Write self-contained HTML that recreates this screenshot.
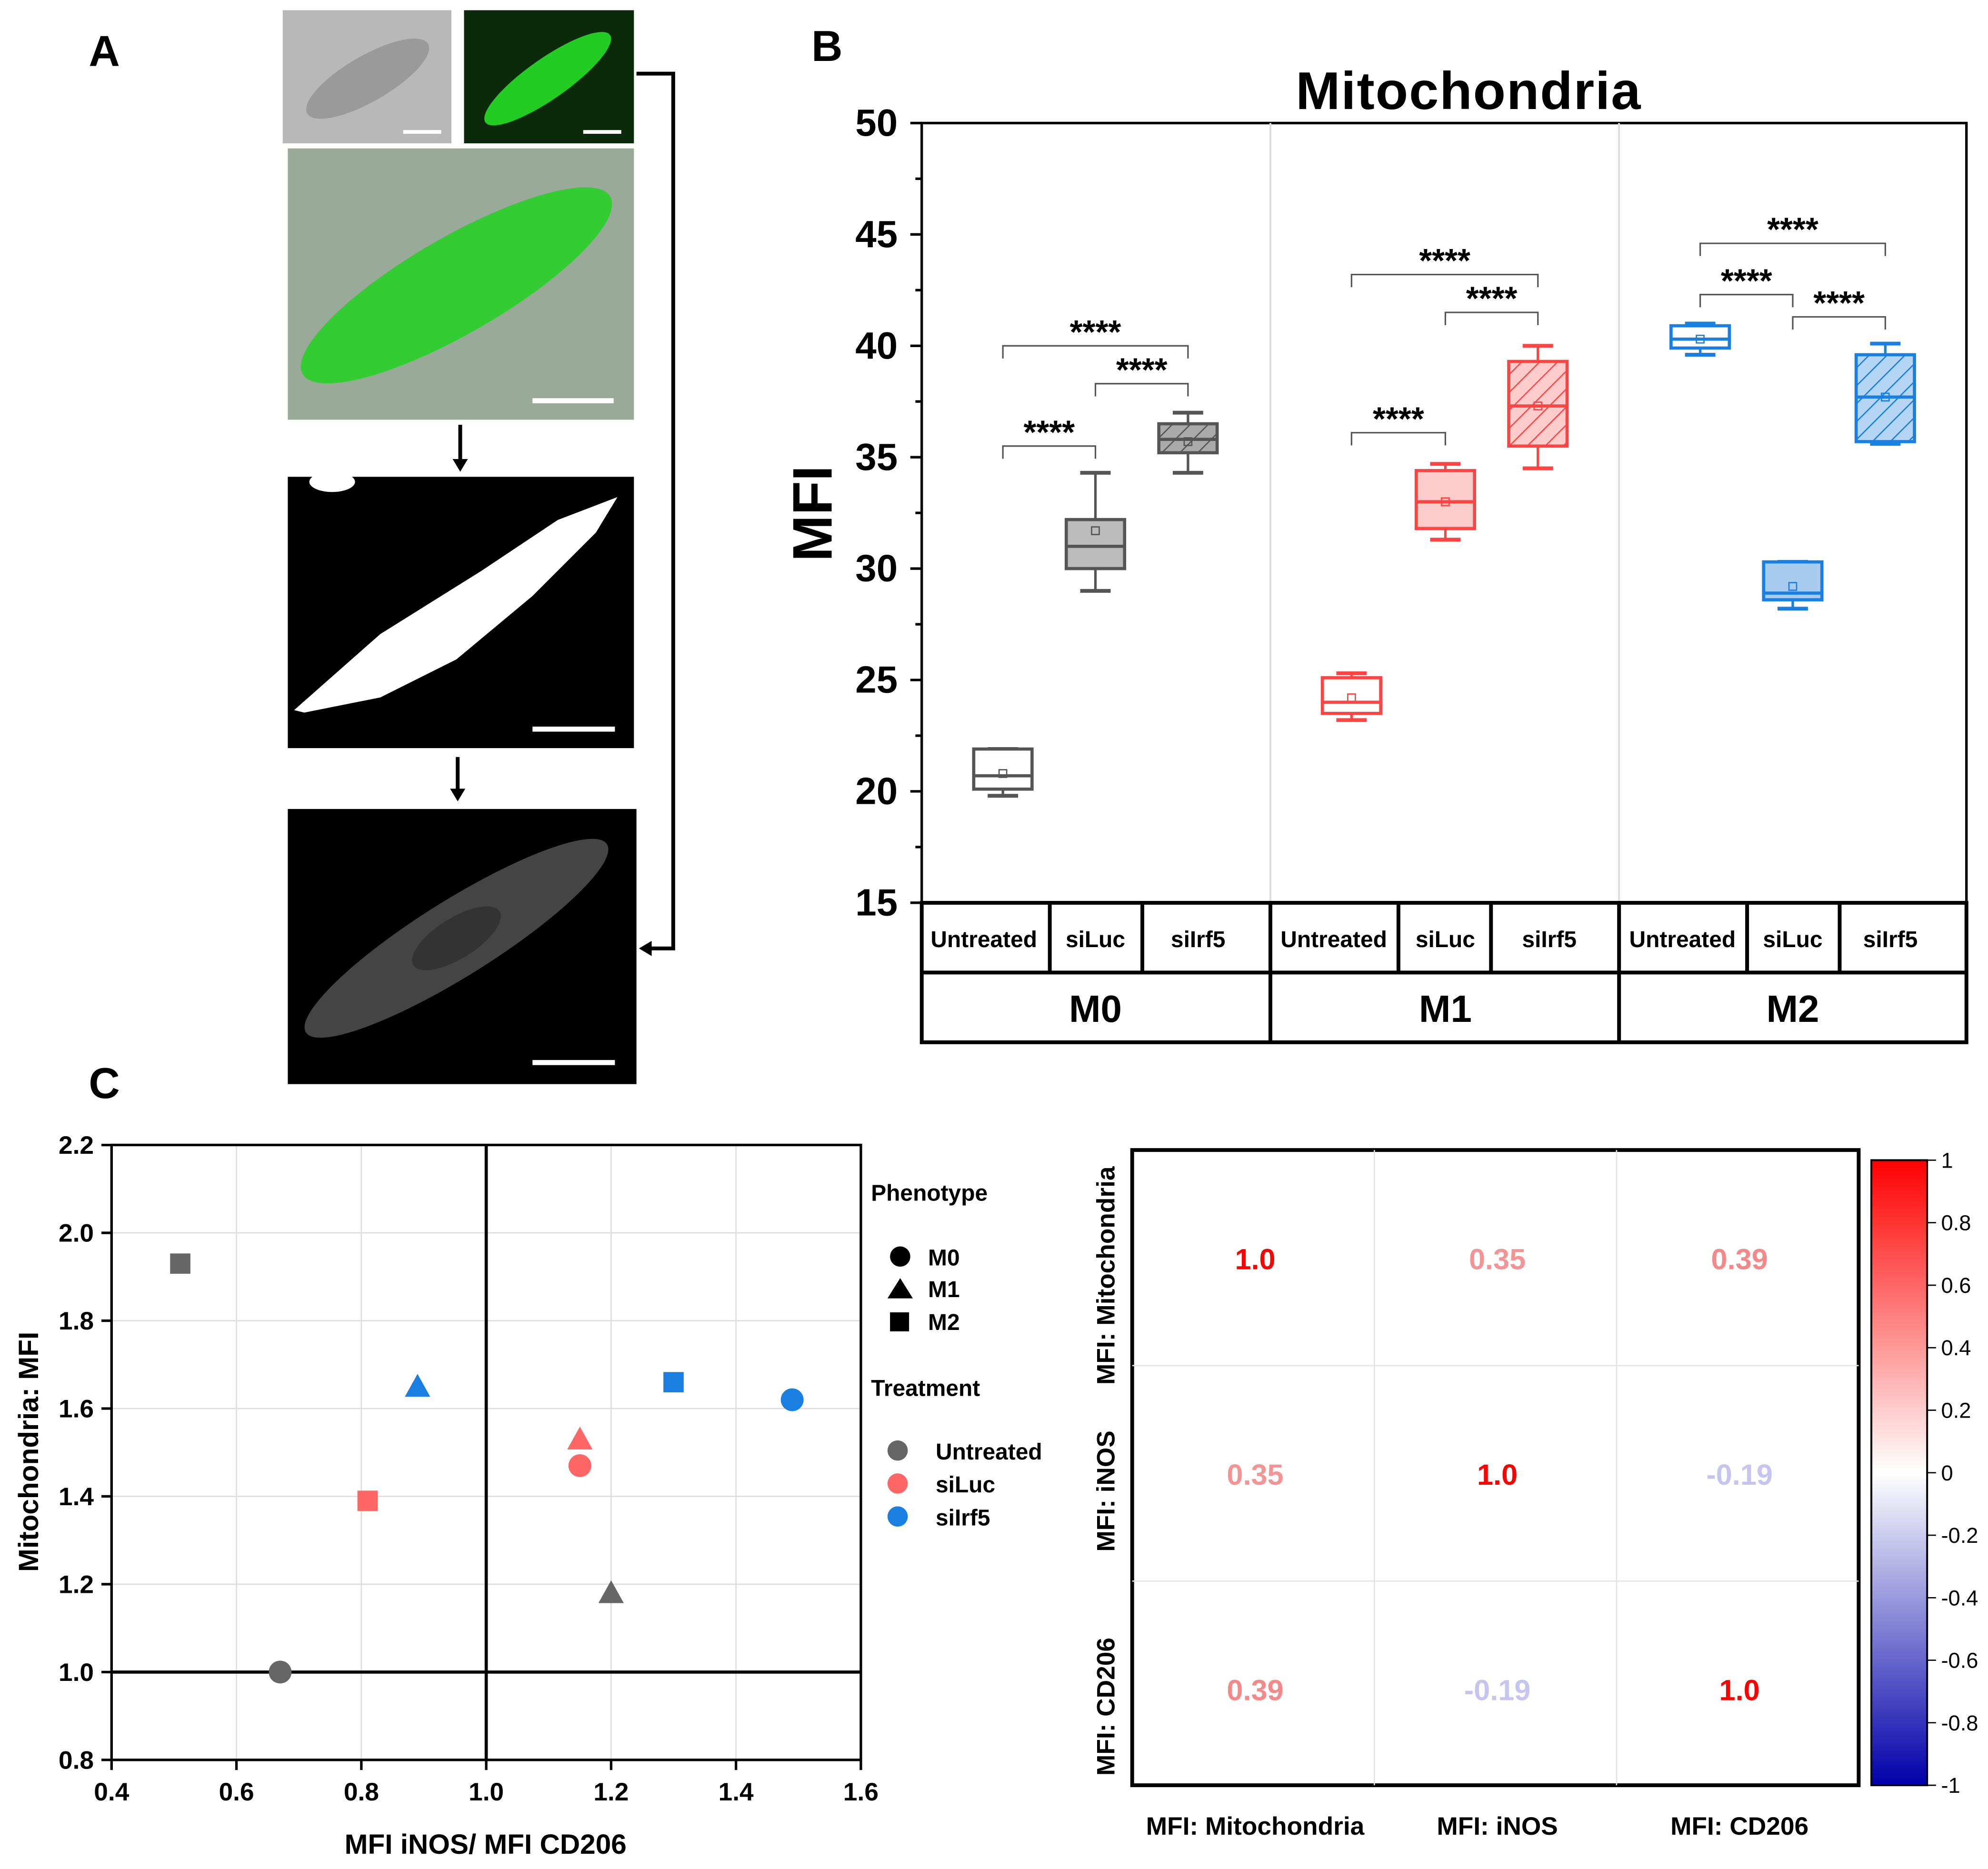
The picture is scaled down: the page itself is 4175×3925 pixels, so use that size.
<!DOCTYPE html>
<html><head><meta charset="utf-8"><style>
html,body{margin:0;padding:0;background:#fff;}
svg{display:block;font-family:"Liberation Sans",Arial,sans-serif;}
</style></head><body>
<svg width="4175" height="3925" viewBox="0 0 1568 1474" xmlns="http://www.w3.org/2000/svg">
<defs>
<pattern id="hg" width="10" height="10" patternUnits="userSpaceOnUse" patternTransform="rotate(45)"><rect width="10" height="10" fill="#aaa"/><line x1="0" y1="0" x2="0" y2="10" stroke="#555" stroke-width="2"/></pattern>
<pattern id="hr" width="10" height="10" patternUnits="userSpaceOnUse" patternTransform="rotate(45)"><rect width="10" height="10" fill="#fcc"/><line x1="0" y1="0" x2="0" y2="10" stroke="#f44" stroke-width="2"/></pattern>
<pattern id="hb" width="10" height="10" patternUnits="userSpaceOnUse" patternTransform="rotate(45)"><rect width="10" height="10" fill="#b5d5f5"/><line x1="0" y1="0" x2="0" y2="10" stroke="#1a7fe0" stroke-width="2"/></pattern>
<linearGradient id="cb" x1="0" y1="0" x2="0" y2="1"><stop offset="0" stop-color="#f00"/><stop offset="0.5" stop-color="#fff"/><stop offset="1" stop-color="#00a"/></linearGradient>
</defs>

<!-- Panel A -->
<g>
<text x="70" y="52" font-size="34" font-weight="bold">A</text>
<rect x="223" y="8" width="133" height="105" fill="#b8b8b8"/>
<ellipse cx="290" cy="62" rx="55" ry="18" transform="rotate(-30 290 62)" fill="#9a9a9a"/>
<line x1="318" y1="104" x2="348" y2="104" stroke="#fff" stroke-width="3"/>
<rect x="366" y="8" width="134" height="105" fill="#0a2a0a"/>
<ellipse cx="432" cy="62" rx="60" ry="16" transform="rotate(-35 432 62)" fill="#2c2"/>
<line x1="460" y1="104" x2="490" y2="104" stroke="#fff" stroke-width="3"/>
<rect x="227" y="117" width="273" height="214" fill="#9aaa98"/>
<ellipse cx="360" cy="225" rx="140" ry="38" transform="rotate(-30 360 225)" fill="#3c3"/>
<line x1="420" y1="316" x2="484" y2="316" stroke="#fff" stroke-width="4"/>
<line x1="363" y1="335" x2="363" y2="364" stroke="#000" stroke-width="3"/><polygon points="357,362 369,362 363,372" fill="#000"/>
<rect x="227" y="376" width="273" height="214" fill="#000"/>
<polygon points="232,560 300,500 380,450 440,410 487,392 470,420 420,470 360,520 300,550 240,562" fill="#fff"/>
<ellipse cx="262" cy="380" rx="18" ry="8" fill="#fff"/>
<line x1="420" y1="575" x2="485" y2="575" stroke="#fff" stroke-width="4"/>
<line x1="361" y1="597" x2="361" y2="624" stroke="#000" stroke-width="3"/><polygon points="355,622 367,622 361,632" fill="#000"/>
<rect x="227" y="638" width="275" height="217" fill="#000"/>
<ellipse cx="360" cy="740" rx="140" ry="30" transform="rotate(-32 360 740)" fill="#444"/>
<ellipse cx="360" cy="740" rx="40" ry="16" transform="rotate(-32 360 740)" fill="#333"/>
<line x1="420" y1="838" x2="485" y2="838" stroke="#fff" stroke-width="4"/>
<polyline points="502,58 531,58 531,748 512,748" fill="none" stroke="#000" stroke-width="3"/>
<polygon points="514,742 514,754 504,748" fill="#000"/>
</g>

<!-- Panel B -->
<g id="pb">
<text x="640" y="48" font-size="34" font-weight="bold">B</text>
<text x="1158" y="86" font-size="42" font-weight="bold" text-anchor="middle" textLength="272">Mitochondria</text>
<text transform="translate(656 405) rotate(-90)" font-size="44" font-weight="bold" text-anchor="middle">MFI</text>
<rect x="727" y="97" width="824" height="615" fill="none" stroke="#000" stroke-width="2"/>
<line x1="1002" y1="97" x2="1002" y2="712" stroke="#ddd" stroke-width="1.5"/>
<line x1="1277" y1="97" x2="1277" y2="712" stroke="#ddd" stroke-width="1.5"/>
<g id="bticks"></g>
<g id="bboxes"></g>
<g id="bsig"></g>
<g stroke="#000" stroke-width="3" fill="none">
<rect x="727" y="712" width="824" height="110"/>
<line x1="727" y1="767" x2="1551" y2="767"/>
<line x1="1002" y1="712" x2="1002" y2="822"/><line x1="1277" y1="712" x2="1277" y2="822"/>
<line x1="828" y1="712" x2="828" y2="767"/><line x1="901" y1="712" x2="901" y2="767"/>
<line x1="1103" y1="712" x2="1103" y2="767"/><line x1="1176" y1="712" x2="1176" y2="767"/>
<line x1="1378" y1="712" x2="1378" y2="767"/><line x1="1451" y1="712" x2="1451" y2="767"/>
</g>
<g font-size="18" font-weight="bold" text-anchor="middle">
<text x="776" y="747">Untreated</text>
<text x="864" y="747">siLuc</text>
<text x="945" y="747">siIrf5</text>
<text x="1052" y="747">Untreated</text>
<text x="1140" y="747">siLuc</text>
<text x="1222" y="747">siIrf5</text>
<text x="1327" y="747">Untreated</text>
<text x="1414" y="747">siLuc</text>
<text x="1491" y="747">siIrf5</text>
</g>
<g font-size="30" font-weight="bold" text-anchor="middle">
<text x="864" y="806">M0</text>
<text x="1140" y="806">M1</text>
<text x="1414" y="806">M2</text>
</g>
</g>

<!-- Panel C scatter -->
<g>
<text x="70" y="866" font-size="34" font-weight="bold">C</text>
<g id="cgrid"></g>
<rect x="88" y="903" width="591" height="485" fill="none" stroke="#000" stroke-width="2"/>
<g id="cpts"></g>
<text x="383" y="1462" font-size="22" font-weight="bold" text-anchor="middle">MFI iNOS/ MFI CD206</text>
<text transform="translate(30 1145) rotate(-90)" font-size="22" font-weight="bold" text-anchor="middle">Mitochondria: MFI</text>
<g font-size="18" font-weight="bold">
<text x="687" y="947">Phenotype</text>
<circle cx="710" cy="991" r="8" fill="#000"/><text x="732" y="998">M0</text>
<polygon points="710,1008 720,1024 700,1024" fill="#000"/><text x="732" y="1023">M1</text>
<rect x="702" y="1035" width="15" height="15" fill="#000"/><text x="732" y="1049">M2</text>
<text x="687" y="1101">Treatment</text>
<circle cx="708" cy="1144" r="8" fill="#666"/><text x="738" y="1151">Untreated</text>
<circle cx="708" cy="1170" r="8" fill="#f66"/><text x="738" y="1177">siLuc</text>
<circle cx="708" cy="1196" r="8" fill="#1a7fe0"/><text x="738" y="1203">siIrf5</text>
</g>
</g>

<!-- Heatmap -->
<g>
<rect x="893" y="907" width="573" height="501" fill="none" stroke="#000" stroke-width="3"/>
<line x1="1084" y1="907" x2="1084" y2="1408" stroke="#e4e4e4"/><line x1="1275" y1="907" x2="1275" y2="1408" stroke="#e4e4e4"/>
<line x1="893" y1="1077" x2="1466" y2="1077" stroke="#e4e4e4"/><line x1="893" y1="1247" x2="1466" y2="1247" stroke="#e4e4e4"/>
<g id="hcells"></g>
<g font-size="20" font-weight="bold">
<text x="990" y="1447" text-anchor="middle">MFI: Mitochondria</text>
<text x="1181" y="1447" text-anchor="middle">MFI: iNOS</text>
<text x="1372" y="1447" text-anchor="middle">MFI: CD206</text>
<text transform="translate(879 1006) rotate(-90)" text-anchor="middle">MFI: Mitochondria</text>
<text transform="translate(879 1176) rotate(-90)" text-anchor="middle">MFI: iNOS</text>
<text transform="translate(879 1346) rotate(-90)" text-anchor="middle">MFI: CD206</text>
</g>
<rect x="1476" y="915" width="44" height="493" fill="url(#cb)" stroke="#000" stroke-width="1.5"/>
<g id="cbt" font-size="17"></g>
</g>
</svg>
<script>
const NS="http://www.w3.org/2000/svg";
function mk(t,a,p){const e=document.createElementNS(NS,t);for(const k in a)e.setAttribute(k,a[k]);p.appendChild(e);return e;}
const bCats=["M0-Untreated","M0-siLuc","M0-siIrf5","M1-Untreated","M1-siLuc","M1-siIrf5","M2-Untreated","M2-siLuc","M2-siIrf5"];
const bLow=[19.8,29.0,34.3,23.2,31.3,34.5,39.6,28.2,35.6];
const bQ1=[20.1,30.0,35.2,23.5,31.8,35.5,39.9,28.6,35.7];
const bMed=[20.7,31.0,35.8,24.0,33.0,37.3,40.3,28.9,37.7];
const bQ3=[21.9,32.2,36.5,25.1,34.4,39.3,40.9,30.3,39.6];
const bHigh=[21.9,34.3,37.0,25.3,34.7,40.0,41.0,30.3,40.1];
const bMean=[20.8,31.7,35.7,24.2,33.0,37.3,40.3,29.2,37.7];
const bTicks=[15,20,25,30,35,40,45,50];
const sigPairs=[[0,1],[0,2],[1,2],[3,4],[3,5],[4,5],[6,7],[6,8],[7,8]];
const sigLevels=[35.5,40,38.3,36.1,43.2,41.5,42.3,44.6,41.3];
const by=v=>97+(50-v)*17.57;
const bxC=[791,864,937,1066,1140,1213,1341,1414,1487];
const edge=["#555","#555","#555","#f44","#f44","#f44","#1a7fe0","#1a7fe0","#1a7fe0"];
const fill=["#fff","#bbb","url(#hg)","#fff","#fcc","url(#hr)","#fff","#a8ccf0","url(#hb)"];
const bt=document.getElementById('bticks');
bTicks.forEach(t=>{const y=by(t);mk('line',{x1:718,y1:y,x2:727,y2:y,stroke:'#000','stroke-width':2},bt);
const tx=mk('text',{x:708,y:y+10,'font-size':30,'font-weight':'bold','text-anchor':'end'},bt);tx.textContent=t;


if(t<50)mk('line',{x1:722,y1:by(t+2.5),x2:727,y2:by(t+2.5),stroke:'#000','stroke-width':2},bt);});
const bb=document.getElementById('bboxes');
bCats.forEach((c,i)=>{const g=mk('g',{},bb);


const x=bxC[i],w=23,e=edge[i];
mk('line',{x1:x,y1:by(bHigh[i]),x2:x,y2:by(bLow[i]),stroke:e,'stroke-width':2},g);
mk('line',{x1:x-12,y1:by(bHigh[i]),x2:x+12,y2:by(bHigh[i]),stroke:e,'stroke-width':3},g);
mk('line',{x1:x-12,y1:by(bLow[i]),x2:x+12,y2:by(bLow[i]),stroke:e,'stroke-width':3},g);
mk('rect',{x:x-w,y:by(bQ3[i]),width:2*w,height:by(bQ1[i])-by(bQ3[i]),fill:fill[i],stroke:e,'stroke-width':2.5},g);
mk('line',{x1:x-w,y1:by(bMed[i]),x2:x+w,y2:by(bMed[i]),stroke:e,'stroke-width':2.5},g);
mk('rect',{x:x-3,y:by(bMean[i])-3,width:6,height:6,fill:'none',stroke:e,'stroke-width':1},g);});
const bs=document.getElementById('bsig');
sigPairs.forEach((p,i)=>{const g=mk('g',{},bs);


const y=by(sigLevels[i]),x1=bxC[p[0]],x2=bxC[p[1]];
mk('polyline',{points:`${x1},${y+10} ${x1},${y} ${x2},${y} ${x2},${y+10}`,fill:'none',stroke:'#555','stroke-width':1.2},g);
const t=mk('text',{x:(x1+x2)/2,y:y-2,'font-size':26,'font-weight':'bold','text-anchor':'middle'},g);t.textContent='****';});
const cX=[0.51,0.89,0.81,0.67,1.15,1.15,1.2,1.3,1.49];
const cY=[1.93,1.65,1.39,1.0,1.53,1.47,1.18,1.66,1.62];
const cShape=["s","t","s","c","t","c","t","s","c"];
const cTreat=["Untreated","siIrf5","siLuc","Untreated","siLuc","siLuc","Untreated","siIrf5","siIrf5"];
const xTicks=[0.4,0.6,0.8,1.0,1.2,1.4,1.6];
const yTicks=[0.8,1.0,1.2,1.4,1.6,1.8,2.0,2.2];
const sx=v=>88+(v-0.4)*492.5, sy=v=>1388-(v-0.8)*346.4;
const tc={"Untreated":"#666","siLuc":"#f66","siIrf5":"#1a7fe0"};
const cg=document.getElementById('cgrid');
xTicks.forEach(v=>{const x=sx(v);mk('line',{x1:x,y1:903,x2:x,y2:1388,stroke:'#ddd'},cg);
mk('line',{x1:x,y1:1388,x2:x,y2:1396,stroke:'#000','stroke-width':2},cg);
const t=mk('text',{x:x,y:1420,'font-size':20,'font-weight':'bold','text-anchor':'middle'},cg);t.textContent=v.toFixed(1);

});
yTicks.forEach(v=>{const y=sy(v);mk('line',{x1:88,y1:y,x2:679,y2:y,stroke:'#ddd'},cg);
mk('line',{x1:80,y1:y,x2:88,y2:y,stroke:'#000','stroke-width':2},cg);
const t=mk('text',{x:74,y:y+7,'font-size':20,'font-weight':'bold','text-anchor':'end'},cg);t.textContent=v.toFixed(1);

});
mk('line',{x1:sx(1),y1:903,x2:sx(1),y2:1388,stroke:'#000','stroke-width':2.5},cg);
mk('line',{x1:88,y1:sy(1),x2:679,y2:sy(1),stroke:'#000','stroke-width':2.5},cg);
const cp=document.getElementById('cpts');
cX.forEach((v,i)=>{const x=sx(v),y=sy(cY[i]),c=tc[cTreat[i]];let e;
if(cShape[i]=="c")e=mk('circle',{cx:x,cy:y,r:9,fill:c},cp);
else if(cShape[i]=="t")e=mk('polygon',{points:`${x},${y-10} ${x+10},${y+8} ${x-10},${y+8}`,fill:c},cp);
else e=mk('rect',{x:x-8,y:y-8,width:16,height:16,fill:c},cp);

});
const hVals=[[1.0,0.35,0.39],[0.35,1.0,-0.19],[0.39,-0.19,1.0]];
const cbTicks=[1,0.8,0.6,0.4,0.2,0,-0.2,-0.4,-0.6,-0.8,-1];
function hc(v){if(v>=0.99)return '#f00';if(v>=0){const k=Math.max(0,Math.round(255*(1-v*1.2)));return `rgb(245,${k},${k})`;}const k=Math.round(255*(1+v*1.2));return `rgb(${k},${k},240)`;}
const hcg=document.getElementById('hcells');
hVals.forEach((r,i)=>r.forEach((v,j)=>{const t=mk('text',{x:990+j*191,y:1001+i*170,'font-size':23,'font-weight':'bold','text-anchor':'middle',fill:hc(v)},hcg);
t.textContent=v.toFixed(Math.abs(v)==1?1:2);

}));
const cbt=document.getElementById('cbt');
cbTicks.forEach(v=>{const y=915+(1-v)/2*493;mk('line',{x1:1520,y1:y,x2:1527,y2:y,stroke:'#000'},cbt);
const t=mk('text',{x:1531,y:y+6},cbt);t.textContent=v;

});
</script>
</body></html>
